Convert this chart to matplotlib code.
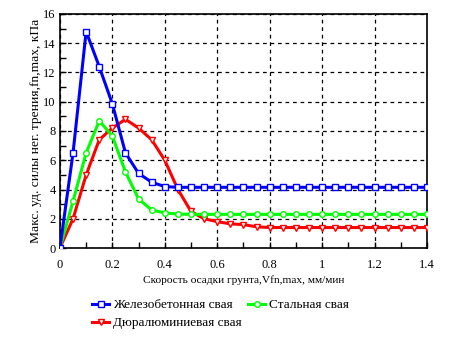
import numpy as np
import matplotlib
matplotlib.use("Agg")
import matplotlib.pyplot as plt
from matplotlib.ticker import MultipleLocator

plt.rcParams['font.family'] = ['Liberation Serif', 'DejaVu Serif']

x = [0, 0.05, 0.1, 0.15, 0.2, 0.25, 0.3, 0.35, 0.4, 0.45, 0.5, 0.55, 0.6, 0.65, 0.7,
     0.75, 0.8, 0.85, 0.9, 0.95, 1.0, 1.05, 1.1, 1.15, 1.2, 1.25, 1.3, 1.35, 1.4]
concrete = [0, 6.5, 14.8, 12.4, 9.85, 6.5, 5.1, 4.5, 4.2, 4.15, 4.15, 4.15, 4.15, 4.15, 4.15,
            4.15, 4.15, 4.15, 4.15, 4.15, 4.15, 4.15, 4.15, 4.15, 4.15, 4.15, 4.15, 4.15, 4.15]
steel = [0, 3.2, 6.5, 8.7, 7.65, 5.2, 3.35, 2.6, 2.4, 2.32, 2.3, 2.3, 2.3, 2.3, 2.3,
         2.3, 2.3, 2.3, 2.3, 2.3, 2.3, 2.3, 2.3, 2.3, 2.3, 2.3, 2.3, 2.3, 2.3]
dural = [0, 2.0, 5.0, 7.4, 8.2, 8.8, 8.2, 7.4, 6.0, 4.0, 2.5, 2.0, 1.8, 1.65, 1.6,
         1.45, 1.4, 1.4, 1.4, 1.4, 1.4, 1.4, 1.4, 1.4, 1.4, 1.4, 1.4, 1.4, 1.4]
labels = ['Железобетонная свая', 'Стальная свая', 'Дюралюминиевая свая']

fig = plt.figure(figsize=(4.54, 3.41), dpi=100)
ax = fig.add_axes([0.132, 0.2727, 0.8085, 0.6863])

h1, = ax.plot(x, concrete, color='#0000ff', lw=2.2, marker='s', ms=4, mfc='white', mec='#0000ff', mew=1, label=labels[0], zorder=5)
h2, = ax.plot(x, steel, color='#00ff00', lw=2.2, marker='o', ms=4, mfc='white', mec='#00ff00', mew=1, label=labels[1], zorder=4)
h3, = ax.plot(x, dural, color='#ff0000', lw=2.2, marker='v', ms=5, mfc='white', mec='#ff0000', mew=1, label=labels[2], zorder=3)

ax.set_xlim(0, 1.4)
ax.set_ylim(0, 16)
ax.xaxis.set_major_locator(MultipleLocator(0.2))
ax.xaxis.set_minor_locator(MultipleLocator(0.1))
ax.yaxis.set_major_locator(MultipleLocator(2))
ax.yaxis.set_minor_locator(MultipleLocator(1))
ax.set_xticks([0, 0.2, 0.4, 0.6, 0.8, 1.0, 1.2, 1.4])
ax.set_xticklabels(['0', '0.2', '0.4', '0.6', '0.8', '1', '1.2', '1.4'])
ax.tick_params(which='both', direction='in', labelsize=9, colors='black', width=1)
ax.tick_params(which='major', length=4)
ax.tick_params(which='minor', length=4)
ax.tick_params(axis='x', pad=8)
ax.tick_params(axis='y', pad=3)
ax.grid(True, which='major', linestyle=(0, (3, 3)), color='black', lw=0.9)
for s in ax.spines.values():
    s.set_linewidth(1.2)

ax.set_xlabel('Скорость осадки грунта,Vfn,max, мм/мин', fontsize=8.2, labelpad=3)
ax.set_ylabel('Макс. уд. силы нег. трения,fn,max, кПа', fontsize=9.7, labelpad=1)

ax.legend([h1, h3, h2], [labels[0], labels[2], labels[1]],
          loc='upper left', bbox_to_anchor=(0.073, -0.195), ncol=2, frameon=False,
          fontsize=9.5, handlelength=1.3, handletextpad=0.3, columnspacing=0.5,
          labelspacing=0.45, borderaxespad=0)

fig.savefig('out.png', dpi=100)
